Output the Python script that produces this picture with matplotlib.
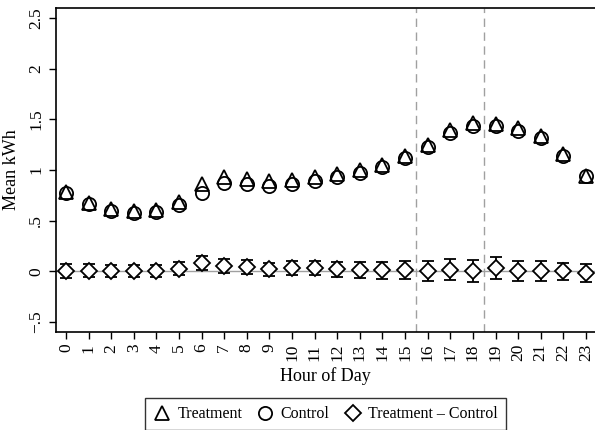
import matplotlib.pyplot as plt
import numpy as np

### DONNEES
heures = list(range(24))
traitement = [0.785, 0.67, 0.614, 0.594, 0.604, 0.686, 0.858, 0.93, 0.91, 0.89, 0.90, 0.93,
              0.96, 1.00, 1.05, 1.14, 1.25, 1.40, 1.46, 1.45, 1.41, 1.34, 1.155, 0.94]
controle = [0.77, 0.66, 0.60, 0.58, 0.59, 0.653, 0.77, 0.875, 0.86, 0.845, 0.86, 0.89,
            0.93, 0.973, 1.03, 1.115, 1.23, 1.37, 1.435, 1.43, 1.39, 1.32, 1.14, 0.94]
difference = [0.0, 0.005, 0.0, 0.0, 0.0, 0.027, 0.08, 0.05, 0.043, 0.02, 0.03, 0.03,
              0.02, 0.01, 0.01, 0.015, 0.0, 0.017, 0.0, 0.03, 0.0, 0.0, 0.0, -0.016]
demi_ic = [0.067, 0.065, 0.06, 0.06, 0.06, 0.067, 0.07, 0.07, 0.07, 0.066, 0.068, 0.07,
           0.075, 0.08, 0.085, 0.09, 0.10, 0.105, 0.107, 0.107, 0.10, 0.10, 0.086, 0.086]
pointe = [15.5, 18.5]  # limites de la periode de pointe
yticks = [-0.5, 0, 0.5, 1, 1.5, 2, 2.5]
ytick_labels = ["\u2212.5", "0", ".5", "1", "1.5", "2", "2.5"]

plt.rcParams['font.family'] = ['Liberation Serif', 'DejaVu Serif']

fig = plt.figure(figsize=(5.95, 4.30), dpi=100)
ax = fig.add_axes([56/595, 98/430, 539/595, 324/430])

ax.axhline(0, color='#a0a0a0', lw=1.0, zorder=1)
for x in pointe:
    ax.axvline(x, color='#a0a0a0', lw=1.0, ls=(0, (6, 4)), zorder=1)

ms = 9.5
ax.plot(heures, traitement, ls='none', marker='^', ms=ms, mfc='none', mec='black', mew=1.3,
        label='Treatment', zorder=3)
ax.plot(heures, controle, ls='none', marker='o', ms=ms, mfc='none', mec='black', mew=1.3,
        label='Control', zorder=3)
ax.errorbar(heures, difference, yerr=demi_ic, ls='none', ecolor='black', elinewidth=1.3,
            capsize=4, capthick=1.3, zorder=2)
ax.plot(heures, difference, ls='none', marker='D', ms=8, mfc='white', mec='black', mew=1.3,
        label='Treatment \u2013 Control', zorder=3)

ax.set_xlim(-0.44, 23.4)
ax.set_ylim(-0.60, 2.60)
ax.set_xticks(heures)
ax.set_xticklabels([str(h) for h in heures], rotation=90, fontsize=12.5)
ax.set_yticks(yticks)
ax.set_yticklabels(ytick_labels, rotation=90, va='center', fontsize=12.5)
ax.tick_params(direction='out', length=5, width=1, color='black')
ax.spines['right'].set_visible(False)
for s in ['left', 'bottom', 'top']:
    ax.spines[s].set_linewidth(1.2)

ax.set_xlabel('Hour of Day', fontsize=13, labelpad=4)
ax.set_ylabel('Mean kWh', fontsize=13, labelpad=6)

leg = ax.legend(loc='upper center', bbox_to_anchor=(0.5, -0.18), ncol=3, frameon=True,
                fancybox=False, edgecolor='black', fontsize=11.5, handletextpad=0.4,
                columnspacing=0.9, handlelength=1.1, borderpad=0.5)
leg.get_frame().set_linewidth(1.0)

fig.savefig('out.png', dpi=100)
